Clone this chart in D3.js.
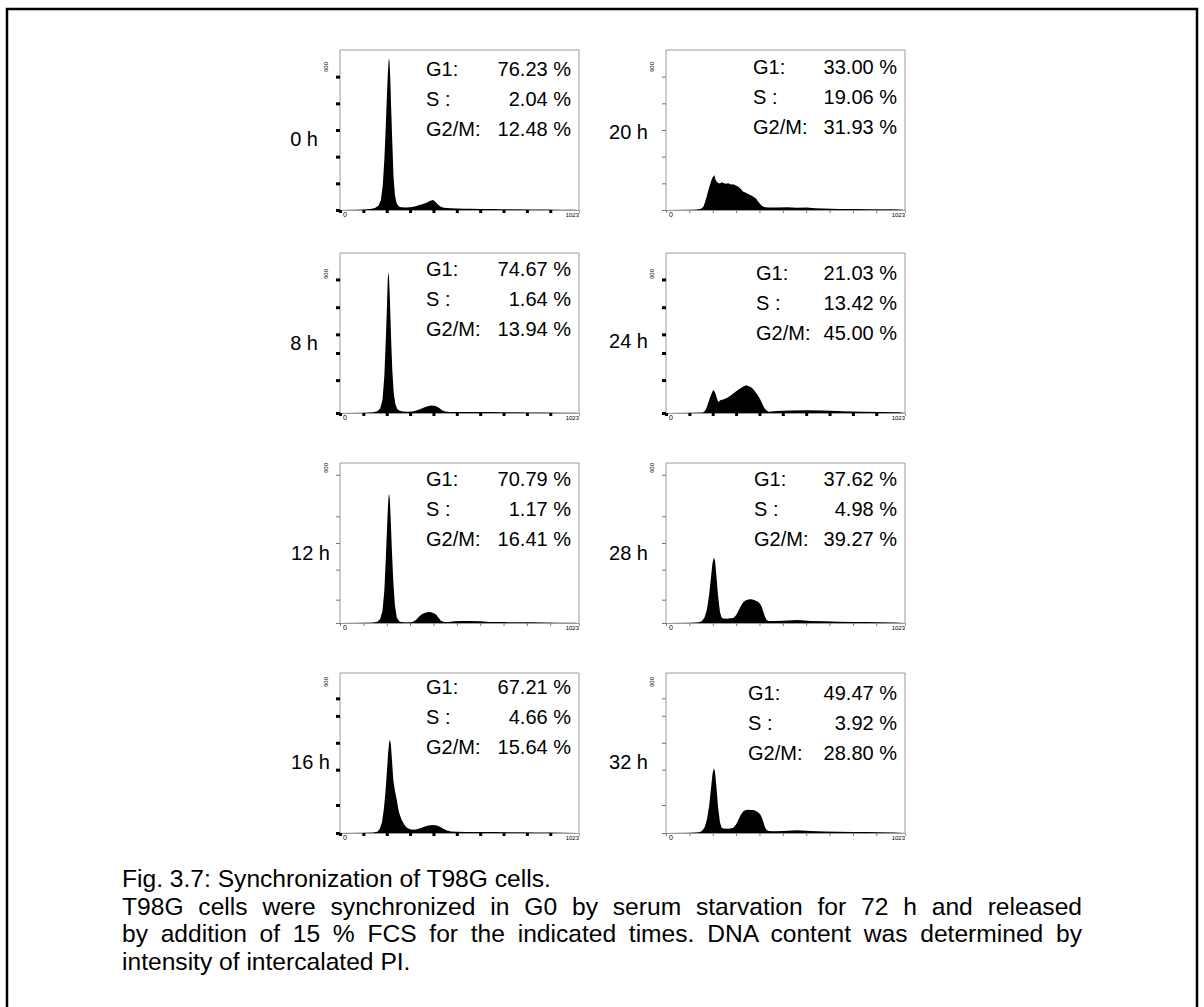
<!DOCTYPE html>
<html>
<head>
<meta charset="utf-8">
<script src="https://cdn.jsdelivr.net/npm/d3@7"></script>
<style>
body { margin: 0; background: #fff; }
text { font-family: "Liberation Sans", Arial, sans-serif; fill: #000; }
</style>
</head>
<body>
<div id="chart"></div>
<script>
var svgWidth = 1204;
var svgHeight = 1007;

// time points and phase percentages
var times = ["0 h", "8 h", "12 h", "16 h", "20 h", "24 h", "28 h", "32 h"];
var g1Pct = ["76.23", "74.67", "70.79", "67.21", "33.00", "21.03", "37.62", "49.47"];
var sPct = ["2.04", "1.64", "1.17", "4.66", "19.06", "13.42", "4.98", "3.92"];
var g2mPct = ["12.48", "13.94", "16.41", "15.64", "31.93", "45.00", "39.27", "28.80"];

// DNA histograms (PI channel, cell count)
var chan0 = [0, 60, 100, 130, 150, 165, 175, 183, 190, 196, 201, 205, 208, 210, 212, 215, 219, 224, 229, 235, 241, 248, 256, 265, 280, 300, 320, 340, 355, 368, 380, 390, 398, 404, 410, 418, 428, 440, 455, 475, 500, 530, 560, 600, 650, 700, 760, 820, 880, 940, 1000, 1023];
var count0 = [0, 1, 2, 4, 9, 20, 45, 110, 230, 380, 520, 620, 670, 683, 665, 600, 460, 300, 150, 70, 35, 20, 14, 12, 11, 12, 16, 22, 27, 32, 38, 43, 45, 41, 35, 26, 17, 11, 9, 8, 7, 6, 6, 5, 4, 3, 3, 2, 2, 1, 1, 0];

var chan8 = [0, 100, 140, 160, 172, 182, 190, 196, 201, 204, 207, 210, 214, 219, 224, 230, 237, 245, 255, 270, 290, 310, 330, 350, 365, 380, 392, 402, 412, 425, 437, 450, 470, 500, 550, 600, 650, 700, 760, 820, 880, 940, 1000, 1023];
var count8 = [0, 1, 3, 8, 20, 60, 170, 330, 480, 590, 636, 610, 500, 330, 190, 90, 40, 18, 10, 7, 6, 7, 12, 20, 27, 32, 34, 33, 30, 22, 12, 7, 5, 5, 5, 4, 4, 3, 3, 2, 2, 1, 1, 0];

var chan12 = [0, 100, 140, 160, 172, 182, 190, 196, 201, 205, 208, 210, 213, 217, 222, 228, 235, 243, 255, 275, 295, 310, 325, 340, 352, 365, 378, 390, 402, 412, 422, 432, 445, 465, 490, 520, 560, 600, 640, 700, 760, 820, 880, 940, 1000, 1023];
var count12 = [0, 1, 2, 6, 18, 55, 150, 290, 420, 520, 570, 582, 560, 470, 330, 190, 80, 25, 6, 3, 3, 5, 14, 30, 40, 46, 50, 48, 44, 37, 24, 10, 4, 5, 8, 9, 9, 8, 5, 4, 3, 3, 2, 1, 1, 0];

var chan16 = [0, 100, 140, 160, 170, 180, 188, 195, 201, 206, 210, 214, 218, 223, 228, 235, 243, 252, 264, 275, 285, 297, 310, 325, 340, 355, 370, 385, 400, 414, 428, 442, 458, 475, 500, 540, 600, 660, 720, 780, 840, 900, 960, 1023];
var count16 = [0, 1, 2, 6, 18, 50, 110, 190, 280, 360, 405, 421, 395, 320, 240, 190, 148, 95, 58, 38, 25, 18, 15, 16, 20, 26, 31, 35, 36, 34, 28, 19, 11, 7, 6, 5, 5, 4, 3, 3, 2, 2, 1, 0];

var chan20 = [0, 100, 131, 150, 160, 167, 174, 181, 188, 195, 200, 204, 207, 211, 217, 224, 231, 238, 245, 256, 267, 278, 288, 299, 310, 320, 331, 342, 352, 363, 374, 385, 395, 403, 410, 417, 424, 440, 474, 520, 560, 602, 640, 674, 740, 816, 880, 959, 1000, 1023];
var count20 = [0, 1, 2, 6, 15, 35, 60, 88, 112, 135, 149, 152, 157, 140, 127, 122, 119, 125, 122, 118, 120, 115, 116, 110, 105, 95, 82, 78, 72, 66, 60, 52, 37, 27, 19, 15, 12, 11, 11, 12, 10, 11, 8, 7, 5, 4, 3, 3, 2, 0];

var chan24 = [0, 100, 150, 160, 167, 174, 181, 191, 197, 202, 207, 213, 219, 224, 234, 245, 260, 274, 288, 302, 317, 331, 343, 352, 364, 374, 385, 395, 403, 410, 417, 424, 438, 474, 531, 602, 674, 759, 845, 930, 1000, 1023];
var count24 = [0, 1, 2, 3, 10, 25, 46, 76, 92, 104, 98, 84, 62, 49, 58, 61, 67, 76, 88, 99, 110, 119, 125, 122, 116, 107, 91, 76, 62, 46, 30, 18, 6, 9, 11, 12, 11, 8, 6, 5, 3, 0];

var chan28 = [0, 100, 140, 153, 165, 175, 185, 193, 199, 205, 210, 216, 223, 231, 238, 245, 260, 275, 288, 300, 310, 320, 331, 342, 352, 363, 374, 385, 395, 403, 410, 417, 424, 431, 438, 460, 500, 540, 559, 580, 620, 680, 740, 800, 860, 920, 980, 1023];
var count28 = [0, 1, 3, 8, 25, 60, 130, 210, 270, 295, 280, 210, 120, 50, 25, 20, 19, 21, 22, 35, 55, 75, 95, 102, 106, 107, 105, 100, 94, 85, 72, 50, 27, 14, 9, 9, 10, 12, 14, 12, 9, 8, 6, 5, 4, 3, 2, 0];

var chan32 = [0, 100, 140, 153, 165, 175, 185, 193, 199, 205, 210, 216, 223, 231, 238, 245, 260, 275, 288, 300, 310, 320, 331, 342, 352, 363, 374, 385, 395, 403, 410, 417, 424, 431, 438, 460, 500, 540, 559, 580, 620, 680, 740, 800, 860, 920, 980, 1023];
var count32 = [0, 1, 3, 8, 25, 60, 125, 205, 265, 292, 275, 205, 115, 48, 24, 20, 19, 20, 24, 38, 60, 82, 98, 104, 105, 104, 103, 99, 92, 84, 70, 48, 25, 13, 9, 8, 9, 11, 12, 11, 9, 7, 6, 5, 4, 3, 2, 0];

var channels = [chan0, chan8, chan12, chan16, chan20, chan24, chan28, chan32];
var counts = [count0, count8, count12, count16, count20, count24, count28, count32];

// y tick values per row of panels (top one labelled 600)
var yTicksRow = [
  [0, 120, 240, 360, 480, 600],
  [0, 148, 270, 354, 476, 601],
  [0, 105, 240, 360, 480, 667],
  [0, 126, 285, 406, 527, 606]
];
var xTicks = [0, 100, 200, 300, 400, 500, 600, 700, 800, 900];

var caption = [
  "Fig. 3.7: Synchronization of T98G cells.",
  "T98G cells were synchronized in G0 by serum starvation for 72 h and released",
  "by addition of 15 % FCS for the indicated times. DNA content was determined by",
  "intensity of intercalated PI."
];

// panel layout
var colX = [340, 666];
var rowY = [50, 253, 463, 673];
var pw = 239, ph = 160;
var layout = [
  {col: 0, row: 0, bold: true,  labDx: 22, labDy: 96, stDy: 26, stDx: 86, lab600: 17},
  {col: 0, row: 1, bold: true,  labDx: 22, labDy: 97, stDy: 23, stDx: 86, lab600: 21},
  {col: 0, row: 2, bold: false, labDx: 10, labDy: 97, stDy: 23, stDx: 86, lab600: 5},
  {col: 0, row: 3, bold: true,  labDx: 10, labDy: 96, stDy: 21, stDx: 86, lab600: 9},
  {col: 1, row: 0, bold: false, labDx: 18, labDy: 89, stDy: 24, stDx: 87, lab600: 17},
  {col: 1, row: 1, bold: true,  labDx: 18, labDy: 95, stDy: 27, stDx: 90, lab600: 21},
  {col: 1, row: 2, bold: false, labDx: 18, labDy: 97, stDy: 23, stDx: 88, lab600: 5},
  {col: 1, row: 3, bold: false, labDx: 18, labDy: 96, stDy: 27, stDx: 82, lab600: 9}
];

var svg = d3.select("#chart")
  .append("svg")
  .attr("width", svgWidth)
  .attr("height", svgHeight);

svg.append("rect")
  .attr("x", 7).attr("y", 9)
  .attr("width", 1190).attr("height", 1100)
  .attr("fill", "none")
  .attr("stroke", "#000")
  .attr("stroke-width", 2.5);

var xScale = d3.scaleLinear().domain([0, 1023]).range([0, pw]);
var yScale = d3.scaleLinear().domain([0, 720]).range([ph, 0]);

var area = d3.area()
  .x(d => xScale(d[0]))
  .y0(ph)
  .y1(d => yScale(d[1]));

layout.forEach(function(p, i) {
  var left = colX[p.col], top = rowY[p.row];
  var g = svg.append("g").attr("transform", `translate(${left}, ${top})`);

  g.append("path")
    .datum(d3.zip(channels[i], counts[i]))
    .attr("d", area)
    .attr("fill", "#000");

  // frame
  g.append("path")
    .attr("d", `M0,${ph}V0H${pw}V${ph}`)
    .attr("fill", "none")
    .attr("stroke", "#9a9a9a")
    .attr("stroke-width", 1);

  var tickCol = p.bold ? "#000" : "#777";
  var tickW = p.bold ? 3 : 1;

  // axes
  var yAxis = g.append("g")
    .call(d3.axisLeft(yScale).tickValues(yTicksRow[p.row]).tickSize(4).tickFormat(""));
  yAxis.select(".domain").remove();
  yAxis.selectAll("line").attr("stroke", tickCol).attr("stroke-width", tickW);

  var xAxis = g.append("g")
    .attr("transform", `translate(0, ${ph})`)
    .call(d3.axisBottom(xScale).tickValues(xTicks).tickSize(3).tickFormat(""));
  xAxis.select(".domain").attr("stroke", "#9a9a9a");
  xAxis.selectAll("line").attr("stroke", tickCol).attr("stroke-width", tickW);

  g.append("text")
    .attr("x", 3).attr("y", ph + 7)
    .style("font-size", "7px")
    .text("0");
  g.append("text")
    .attr("x", pw).attr("y", ph + 7)
    .attr("text-anchor", "end")
    .style("font-size", "6px")
    .text("1023");
  g.append("text")
    .attr("transform", `translate(-12, ${p.lab600}) rotate(-90)`)
    .attr("text-anchor", "middle")
    .style("font-size", "6px")
    .text("600");

  // time label
  g.append("text")
    .attr("x", -p.labDx).attr("y", p.labDy)
    .attr("text-anchor", "end")
    .style("font-size", "20px")
    .text(times[i]);

  // phase percentages
  var rows = [["G1:", g1Pct[i]], ["S :", sPct[i]], ["G2/M:", g2mPct[i]]];
  rows.forEach(function(r, k) {
    g.append("text")
      .attr("x", p.stDx).attr("y", p.stDy + k * 30)
      .style("font-size", "20px")
      .text(r[0]);
    g.append("text")
      .attr("x", pw - 8).attr("y", p.stDy + k * 30)
      .attr("text-anchor", "end")
      .style("font-size", "20px")
      .text(r[1] + " %");
  });
});

// caption, lines 2 and 3 justified by widening word gaps
var capX = 122;
var capEnds = [null, 1082, 1082, null];
var capG = svg.append("g").attr("transform", `translate(${capX}, 887)`);
caption.forEach(function(line, k) {
  var t = capG.append("text")
    .attr("x", 0).attr("y", k * 27.7)
    .style("font-size", "24.6px")
    .text(line);
  if (capEnds[k]) {
    var natural = t.node().getComputedTextLength();
    var gaps = line.split(" ").length - 1;
    t.style("word-spacing", Math.max(0, (capEnds[k] - capX - natural) / gaps) + "px");
  }
});
</script>
</body>
</html>
